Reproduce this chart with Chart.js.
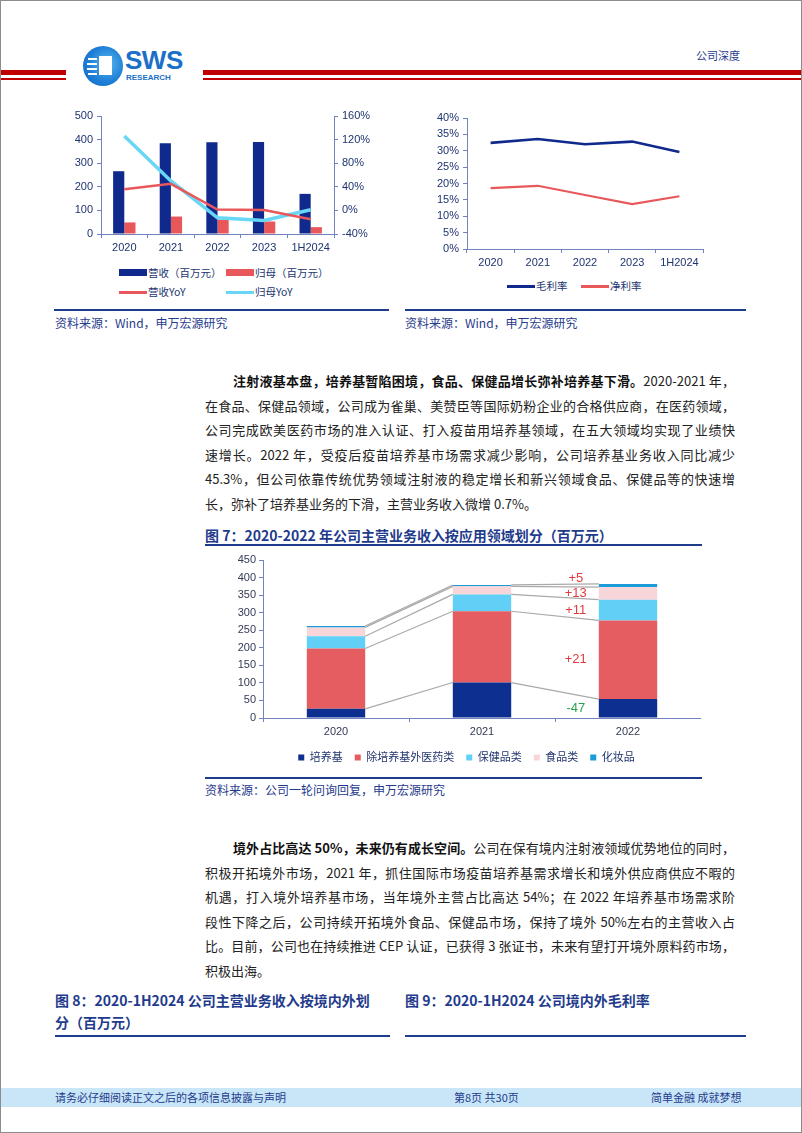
<!DOCTYPE html>
<html lang="zh-CN">
<head>
<meta charset="UTF-8">
<title>公司深度</title>
<script src="https://cdn.jsdelivr.net/npm/chart.js"></script>
<style>
  * { box-sizing: border-box; }
  html, body { margin: 0; padding: 0; background: #fff; }
  .page { position: relative; width: 802px; height: 1133px; overflow: hidden;
          font-family: "Noto Sans CJK SC", "Noto Sans", sans-serif; color: #222; }
  .frame { position: absolute; left: 0; top: 0; width: 802px; height: 1133px; border: 1px solid #8c8c8c; pointer-events: none; }
  .abs { position: absolute; }
  .red { background: #c00000; }
  .navy-line { position: absolute; height: 2px; background: #1f3b8c; }
  .src { position: absolute; font-size: 12px; line-height: 16px; color: #1f3b8c; white-space: nowrap; }
  .ln { position: absolute; left: 205px; width: 530px; height: 24px; font-size: 13px; line-height: 24px;
        text-align: justify; text-align-last: justify; }
  .ln.last { text-align-last: left; }
  .ln b { color: #111; }
  .ftitle { position: absolute; font-size: 14px; line-height: 20px; font-weight: bold; color: #1f3b8c; white-space: nowrap; }
  .lg { position: absolute; font-size: 10.5px; line-height: 14px; color: #22356e; white-space: nowrap; }
  .sw { position: absolute; }
  .foot { position: absolute; font-size: 11px; line-height: 19px; color: #1f3b8c; top: 1088px; white-space: nowrap; }
</style>
</head>
<body>
<div class="page">
  <!-- header -->
  <div class="abs red" style="left:0;top:70px;width:66px;height:5px"></div>
  <div class="abs red" style="left:0;top:78px;width:66px;height:2px"></div>
  <div class="abs red" style="left:203px;top:70px;width:599px;height:5px"></div>
  <div class="abs red" style="left:203px;top:78px;width:599px;height:2px"></div>
  <div class="abs" style="left:83px;top:46px;width:40px;height:40px;border-radius:50%;background:radial-gradient(circle at 60% 45%, #5ab8f0 0%, #1d7fd6 55%, #1565c0 100%)"></div>
  <div class="abs" style="left:99px;top:56px;width:13px;height:19px;background:#fff"></div>
  <div class="abs" style="left:88px;top:58px;width:9px;height:2px;background:#fff"></div>
  <div class="abs" style="left:87px;top:63px;width:10px;height:2px;background:#fff"></div>
  <div class="abs" style="left:87px;top:68px;width:10px;height:2px;background:#fff"></div>
  <div class="abs" style="left:88px;top:73px;width:9px;height:2px;background:#fff"></div>
  <div class="abs" style="left:125px;top:45px;font:bold 26px/30px 'Liberation Sans', Arial, sans-serif;color:#1b6fc8;letter-spacing:-0.5px">SWS</div>
  <div class="abs" style="left:126px;top:73px;font:bold 8px/9px 'Liberation Sans', Arial, sans-serif;color:#1b6fc8">RESEARCH</div>
  <div class="abs" style="left:696px;top:48px;font-size:11px;line-height:14px;color:#1f3b8c">公司深度</div>

  <!-- top left chart -->
  <div class="abs" style="left:55px;top:100px"><canvas id="chartA" width="335" height="160"></canvas></div>
  <div id="legendA"></div>
  <!-- top right chart -->
  <div class="abs" style="left:405px;top:100px"><canvas id="chartB" width="345" height="175"></canvas></div>
  <div id="legendB"></div>

  <div class="navy-line" style="left:54px;top:309px;width:335px"></div>
  <div class="navy-line" style="left:405px;top:309px;width:341px"></div>
  <div class="src" style="left:55px;top:315px">资料来源：Wind，申万宏源研究</div>
  <div class="src" style="left:405px;top:315px">资料来源：Wind，申万宏源研究</div>

  <!-- paragraph 1 -->
  <div class="ln" style="top:369px;padding-left:28px"><b>注射液基本盘，培养基暂陷困境，食品、保健品增长弥补培养基下滑。</b>2020-2021 年，</div>
  <div class="ln" style="top:393.5px">在食品、保健品领域，公司成为雀巢、美赞臣等国际奶粉企业的合格供应商，在医药领域，</div>
  <div class="ln" style="top:418px">公司完成欧美医药市场的准入认证、打入疫苗用培养基领域，在五大领域均实现了业绩快</div>
  <div class="ln" style="top:442.5px">速增长。2022 年，受疫后疫苗培养基市场需求减少影响，公司培养基业务收入同比减少</div>
  <div class="ln" style="top:467px">45.3%，但公司依靠传统优势领域注射液的稳定增长和新兴领域食品、保健品等的快速增</div>
  <div class="ln last" style="top:491.5px">长，弥补了培养基业务的下滑，主营业务收入微增 0.7%。</div>

  <!-- figure 7 -->
  <div class="ftitle" style="left:205px;top:525px">图 7：2020-2022 年公司主营业务收入按应用领域划分（百万元）</div>
  <div class="navy-line" style="left:205px;top:544px;width:497px"></div>
  <div class="abs" style="left:232px;top:548px"><canvas id="chartC" width="469" height="225"></canvas></div>
  <div class="navy-line" style="left:205px;top:777px;width:497px"></div>
  <div class="src" style="left:205px;top:782px">资料来源：公司一轮问询回复，申万宏源研究</div>

  <!-- paragraph 2 -->
  <div class="ln" style="top:836px;padding-left:28px"><b>境外占比高达 50%，未来仍有成长空间。</b>公司在保有境内注射液领域优势地位的同时，</div>
  <div class="ln" style="top:860.5px">积极开拓境外市场，2021 年，抓住国际市场疫苗培养基需求增长和境外供应商供应不暇的</div>
  <div class="ln" style="top:885px">机遇，打入境外培养基市场，当年境外主营占比高达 54%；在 2022 年培养基市场需求阶</div>
  <div class="ln" style="top:909.5px">段性下降之后，公司持续开拓境外食品、保健品市场，保持了境外 50%左右的主营收入占</div>
  <div class="ln" style="top:934px">比。目前，公司也在持续推进 CEP 认证，已获得 3 张证书，未来有望打开境外原料药市场，</div>
  <div class="ln last" style="top:958.5px">积极出海。</div>

  <!-- figure 8 / 9 titles -->
  <div class="ftitle" style="left:55px;top:990px">图 8：2020-1H2024 公司主营业务收入按境内外划</div>
  <div class="ftitle" style="left:55px;top:1012px">分（百万元）</div>
  <div class="ftitle" style="left:405px;top:990px">图 9：2020-1H2024 公司境内外毛利率</div>
  <div class="navy-line" style="left:55px;top:1035px;width:335px"></div>
  <div class="navy-line" style="left:405px;top:1035px;width:341px"></div>

  <!-- footer -->
  <div class="abs" style="left:0;top:1088px;width:802px;height:19px;background:#c9e6f8"></div>
  <div class="foot" style="left:55px">请务必仔细阅读正文之后的各项信息披露与声明</div>
  <div class="foot" style="left:454px">第8页 共30页</div>
  <div class="foot" style="left:651px">简单金融 成就梦想</div>

  <div class="frame"></div>
</div>

<script>
  // ---- data ----
  const yearsA = ['2020', '2021', '2022', '2023', '1H2024'];
  const revenue = [266, 385, 389, 390, 170];        // 营收（百万元）
  const netProfit = [49, 74, 61, 53, 29];           // 归母（百万元）
  const revenueYoY = [36, 45, 1.5, 0.5, -15];       // 营收YoY %
  const profitYoY = [126, 50, -12.5, -17, 1];       // 归母YoY %

  const grossMargin = [32.4, 33.6, 32.0, 32.8, 29.6]; // 毛利率 %
  const netMargin = [18.6, 19.3, 16.5, 13.7, 16.1];   // 净利率 %

  const segYears = ['2020', '2021', '2022'];
  const segNames = ['培养基', '除培养基外医药类', '保健品类', '食品类', '化妆品'];
  const segMedium = [26, 101, 54];
  const segPharma = [172, 203, 224];
  const segHealth = [35, 48, 59];
  const segFood = [25, 23, 36];
  const segCosmetic = [4, 4, 9];

  const axisColor = '#6f84bd';
  const tickColor = '#1f3470';
  Chart.defaults.font.family = "'Liberation Sans', Arial, 'Noto Sans CJK SC', sans-serif";
  Chart.defaults.animation = false;

  const navy = '#10298c', red = '#e8585b', cyan = '#67d7f5';

  function fixW(w) { return s => { s.width = w; }; }
  function fixH(h) { return s => { s.height = h; }; }

  // ---- chart A: revenue / profit ----
  new Chart(document.getElementById('chartA'), {
    type: 'bar',
    data: {
      labels: yearsA,
      datasets: [
        { type: 'line', label: '营收YoY', data: revenueYoY, yAxisID: 'y1', borderColor: red, borderWidth: 2.5, pointRadius: 0, order: 0 },
        { type: 'line', label: '归母YoY', data: profitYoY, yAxisID: 'y1', borderColor: cyan, borderWidth: 3.5, pointRadius: 0, order: 0 },
        { label: '营收（百万元）', data: revenue, backgroundColor: navy, yAxisID: 'y', order: 1 },
        { label: '归母（百万元）', data: netProfit, backgroundColor: red, yAxisID: 'y', order: 1 }
      ]
    },
    options: {
      responsive: false,
      layout: { padding: { top: 16, left: 0, right: 0, bottom: 0 } },
      datasets: { bar: { categoryPercentage: 0.48, barPercentage: 1 } },
      plugins: { legend: { display: false }, tooltip: { enabled: false } },
      scales: {
        x: {
          grid: { offset: true, drawOnChartArea: false, tickLength: 4, color: axisColor },
          border: { color: axisColor },
          ticks: { color: tickColor, font: { size: 11 } },
          afterFit: fixH(26)
        },
        y: {
          min: 0, max: 500,
          ticks: { stepSize: 100, color: tickColor, font: { size: 11 }, padding: 4 },
          grid: { drawOnChartArea: false, tickLength: 4, color: axisColor },
          border: { color: axisColor },
          afterFit: fixW(46)
        },
        y1: {
          position: 'right', min: -40, max: 160,
          ticks: { stepSize: 40, color: tickColor, font: { size: 11 }, padding: 4, callback: v => v + '%' },
          grid: { drawOnChartArea: false, tickLength: 4, color: axisColor },
          border: { color: axisColor },
          afterFit: fixW(56)
        }
      }
    }
  });

  // ---- chart B: margins ----
  new Chart(document.getElementById('chartB'), {
    type: 'line',
    data: {
      labels: yearsA,
      datasets: [
        { label: '毛利率', data: grossMargin, borderColor: navy, backgroundColor: navy, borderWidth: 2.6, pointRadius: 0 },
        { label: '净利率', data: netMargin, borderColor: red, backgroundColor: red, borderWidth: 2.2, pointRadius: 0 }
      ]
    },
    options: {
      responsive: false,
      layout: { padding: { top: 18, right: 47 } },
      plugins: { legend: { display: false }, tooltip: { enabled: false } },
      scales: {
        x: {
          offset: true,
          grid: { offset: true, drawOnChartArea: false, tickLength: 4, color: axisColor },
          border: { color: axisColor },
          ticks: { color: tickColor, font: { size: 11 } },
          afterFit: fixH(26)
        },
        y: {
          min: 0, max: 40,
          ticks: { stepSize: 5, color: tickColor, font: { size: 11 }, padding: 4, callback: v => v + '%' },
          grid: { drawOnChartArea: false, tickLength: 4, color: axisColor },
          border: { color: axisColor },
          afterFit: fixW(62)
        }
      }
    }
  });

  // ---- html legends for A and B ----
  function legendItem(parent, x, y, text, color, kind) {
    const sw = document.createElement('div');
    sw.className = 'sw';
    const h = kind === 'box' ? 7 : 3;
    sw.style.cssText = `left:${x}px;top:${y - h / 2}px;width:28px;height:${h}px;background:${color}`;
    parent.appendChild(sw);
    const t = document.createElement('div');
    t.className = 'lg';
    t.style.left = (x + 29) + 'px';
    t.style.top = (y - 7) + 'px';
    t.textContent = text;
    parent.appendChild(t);
  }
  const lA = document.getElementById('legendA');
  legendItem(lA, 119, 272.5, '营收（百万元）', navy, 'box');
  legendItem(lA, 226, 272.5, '归母（百万元）', red, 'box');
  legendItem(lA, 119, 292, '营收YoY', red, 'line');
  legendItem(lA, 226, 292, '归母YoY', cyan, 'line');
  const lB = document.getElementById('legendB');
  legendItem(lB, 507, 286, '毛利率', navy, 'line');
  legendItem(lB, 581, 286, '净利率', red, 'line');

  // ---- chart C: segments ----
  const segData = [segMedium, segPharma, segHealth, segFood, segCosmetic];
  const segColors = ['#0d2f8f', '#e55d60', '#62d0f6', '#f8d5d8', '#1b9bd8'];

  // grey connectors between stacked tops, and change labels for last year
  const bridges = {
    id: 'bridges',
    afterDatasetsDraw(chart) {
      const ctx = chart.ctx;
      const metas = segData.map((_, i) => chart.getDatasetMeta(i));
      ctx.save();
      ctx.strokeStyle = '#a9a9a9';
      ctx.lineWidth = 1.2;
      for (let c = 0; c < segYears.length - 1; c++) {
        metas.forEach(m => {
          const a = m.data[c], b = m.data[c + 1];
          ctx.beginPath();
          ctx.moveTo(a.x + a.width / 2, a.y);
          ctx.lineTo(b.x - b.width / 2, b.y);
          ctx.stroke();
        });
      }
      const last = segYears.length - 1;
      ctx.font = "13px 'Liberation Sans', Arial, sans-serif";
      ctx.textAlign = 'center';
      ctx.textBaseline = 'middle';
      metas.forEach((m, i) => {
        const el = m.data[last];
        const diff = segData[i][last] - segData[i][last - 1];
        let y = (el.y + el.base) / 2;
        if (el.base - el.y < 8) y = el.y - 5;
        ctx.fillStyle = diff < 0 ? '#2aa24a' : '#e23b3f';
        ctx.fillText((diff > 0 ? '+' : '') + diff, el.x - el.width / 2 - 23, y);
      });
      ctx.restore();
    }
  };

  new Chart(document.getElementById('chartC'), {
    type: 'bar',
    data: {
      labels: segYears,
      datasets: segNames.map((n, i) => ({
        label: n, data: segData[i], backgroundColor: segColors[i], borderWidth: 0
      }))
    },
    options: {
      responsive: false,
      layout: { padding: { top: 12, right: 0 } },
      datasets: { bar: { categoryPercentage: 1, barPercentage: 0.4 } },
      plugins: {
        tooltip: { enabled: false },
        legend: {
          position: 'bottom',
          labels: { boxWidth: 6, boxHeight: 6, padding: 12, color: '#22356e', font: { size: 11 } }
        }
      },
      scales: {
        x: {
          stacked: true,
          grid: { offset: true, drawOnChartArea: false, tickLength: 4, color: axisColor },
          border: { color: axisColor },
          ticks: { color: '#333b55', font: { size: 11 } },
          afterFit: fixH(22)
        },
        y: {
          stacked: true, min: 0, max: 450,
          ticks: { stepSize: 50, color: '#333b55', font: { size: 11 }, padding: 3 },
          grid: { drawOnChartArea: false, tickLength: 4, color: axisColor },
          border: { color: axisColor },
          afterFit: fixW(31)
        }
      }
    },
    plugins: [bridges]
  });
</script>
</body>
</html>
